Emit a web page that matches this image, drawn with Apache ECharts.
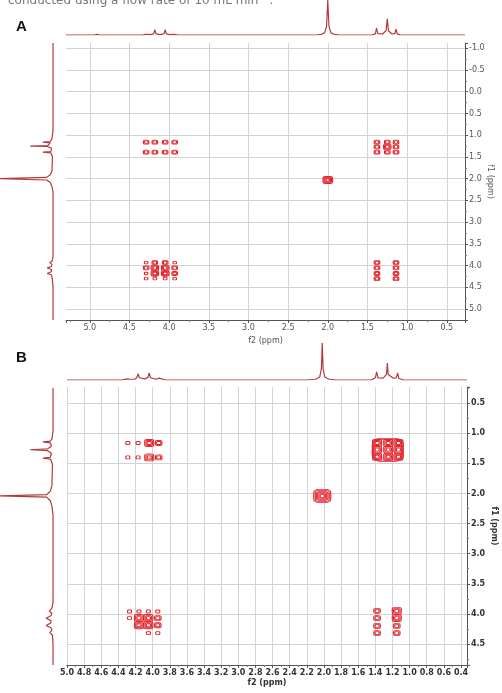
<!DOCTYPE html>
<html>
<head>
<meta charset="utf-8">
<style>
  html, body { margin: 0; padding: 0; background: #fff; }
  #main { width: 502px; height: 693px; }
</style>
<script src="https://cdn.jsdelivr.net/npm/echarts@6/dist/echarts.min.js"></script>
</head>
<body>
<div id="main"></div>
<script>
// 1D projections, [ppm, relative height]
var topSpecA = [
  [5.30, 0], [4.95, 0], [4.91, 0.02], [4.87, 0],
  [4.33, 0], [4.30, 0.02], [4.285, 0.07], [4.27, 0.02], [4.23, 0.01],
  [4.195, 0.03], [4.18, 0.15], [4.165, 0.03], [4.12, 0.01],
  [4.065, 0.03], [4.05, 0.15], [4.035, 0.03], [3.99, 0.01],
  [3.945, 0.02], [3.93, 0.06], [3.915, 0.01], [3.88, 0],
  [2.15, 0], [2.08, 0.02], [2.04, 0.06], [2.015, 0.25], [2.0, 1.0], [1.985, 0.25], [1.96, 0.06], [1.92, 0.02], [1.85, 0],
  [1.45, 0], [1.40, 0.03], [1.385, 0.2], [1.37, 0.04], [1.31, 0.03], [1.265, 0.12], [1.25, 0.46], [1.235, 0.12],
  [1.19, 0.03], [1.155, 0.04], [1.14, 0.17], [1.125, 0.03], [1.08, 0],
  [0.27, 0]
];
var topSpecB = [
  [5.0, 0], [4.36, 0], [4.30, 0.03], [4.285, 0.04], [4.27, 0.02], [4.21, 0.02],
  [4.185, 0.06], [4.17, 0.17], [4.155, 0.06], [4.09, 0.03],
  [4.055, 0.07], [4.04, 0.19], [4.025, 0.06], [3.96, 0.02],
  [3.94, 0.04], [3.925, 0.05], [3.91, 0.02], [3.85, 0],
  [2.2, 0], [2.1, 0.02], [2.05, 0.08], [2.03, 0.3], [2.02, 1.0], [2.01, 0.3], [1.99, 0.08], [1.94, 0.02], [1.85, 0],
  [1.45, 0], [1.40, 0.06], [1.385, 0.22], [1.37, 0.06], [1.31, 0.05], [1.27, 0.15], [1.26, 0.46], [1.25, 0.15],
  [1.19, 0.05], [1.155, 0.06], [1.14, 0.19], [1.125, 0.04], [1.07, 0],
  [0.33, 0]
];
// [relative height, ppm]
var leftSpecA = [
  [0, -1.12], [0, 0.9], [0.02, 1.08], [0.05, 1.145], [0.19, 1.16], [0.05, 1.175], [0.03, 1.21],
  [0.1, 1.24], [0.43, 1.25], [0.1, 1.26], [0.03, 1.30], [0.04, 1.375], [0.19, 1.39], [0.04, 1.405], [0.01, 1.5],
  [0.02, 1.82], [0.05, 1.91], [0.12, 1.97], [1.0, 2.0], [0.12, 2.03], [0.05, 2.09], [0.02, 2.18], [0, 2.3],
  [0, 3.8], [0.02, 3.9], [0.06, 3.93], [0.02, 3.97], [0.03, 4.02], [0.11, 4.05], [0.03, 4.09],
  [0.03, 4.14], [0.11, 4.18], [0.03, 4.21], [0.02, 4.26], [0.05, 4.30], [0.01, 4.34], [0, 4.5], [0, 5.25]
];
var leftSpecB = [
  [0, 0.23], [0, 0.95], [0.02, 1.08], [0.05, 1.115], [0.19, 1.13], [0.05, 1.145], [0.03, 1.2],
  [0.1, 1.245], [0.43, 1.26], [0.1, 1.275], [0.03, 1.32], [0.05, 1.385], [0.19, 1.40], [0.05, 1.415], [0.01, 1.5],
  [0.02, 1.85], [0.05, 1.95], [0.12, 2.01], [1.0, 2.03], [0.12, 2.05], [0.05, 2.11], [0.02, 2.2], [0, 2.35],
  [0, 3.8], [0.02, 3.9], [0.07, 3.95], [0.02, 3.99], [0.04, 4.03], [0.13, 4.07], [0.04, 4.11],
  [0.04, 4.15], [0.13, 4.19], [0.04, 4.23], [0.02, 4.27], [0.06, 4.31], [0.01, 4.35], [0, 4.5], [0, 4.85]
];

// 2D cross peaks, [f2, f1, contour levels]
var peaksA = [
  [4.29, 1.16, 2], [4.18, 1.16, 2], [4.05, 1.16, 2], [3.93, 1.16, 2],
  [4.29, 1.39, 2], [4.18, 1.39, 2], [4.05, 1.39, 2], [3.93, 1.39, 2],
  [1.38, 1.16, 2], [1.25, 1.16, 2], [1.14, 1.16, 2],
  [1.38, 1.27, 2], [1.25, 1.27, 3], [1.14, 1.27, 2],
  [1.38, 1.39, 2], [1.25, 1.39, 2], [1.14, 1.39, 2],
  [2.0, 2.03, 4],
  [4.29, 3.93, 1], [4.18, 3.93, 2], [4.05, 3.93, 2], [3.93, 3.93, 1],
  [4.29, 4.05, 2], [4.18, 4.05, 3], [4.05, 4.05, 3], [3.93, 4.05, 2],
  [4.29, 4.18, 1], [4.18, 4.18, 3], [4.05, 4.18, 3], [3.93, 4.18, 2],
  [4.29, 4.30, 1], [4.18, 4.30, 1], [4.05, 4.30, 1], [3.93, 4.30, 1],
  [1.38, 3.93, 2], [1.14, 3.93, 2], [1.38, 4.05, 2], [1.14, 4.05, 2],
  [1.38, 4.18, 2], [1.14, 4.18, 2], [1.38, 4.30, 2], [1.14, 4.30, 2]
];
var peaksB = [
  [4.29, 1.16, 1], [4.17, 1.16, 1], [4.04, 1.16, 3], [3.93, 1.16, 2],
  [4.29, 1.40, 1], [4.17, 1.40, 1], [4.04, 1.40, 3], [3.93, 1.40, 2],
  [1.38, 1.16, 3], [1.25, 1.16, 3], [1.13, 1.16, 3],
  [1.38, 1.27, 3], [1.25, 1.27, 3], [1.13, 1.27, 3],
  [1.38, 1.39, 3], [1.25, 1.39, 3], [1.13, 1.39, 3],
  [2.02, 2.04, 6],
  [4.27, 3.96, 1], [4.16, 3.96, 1], [4.05, 3.96, 1], [3.94, 3.96, 1],
  [4.27, 4.07, 1], [4.16, 4.07, 3], [4.05, 4.07, 3], [3.94, 4.07, 2],
  [4.16, 4.19, 3], [4.05, 4.19, 3], [3.94, 4.19, 2],
  [4.05, 4.32, 1], [3.94, 4.32, 1],
  [1.38, 3.95, 2], [1.15, 3.95, 3], [1.38, 4.07, 2], [1.15, 4.07, 3],
  [1.38, 4.20, 2], [1.15, 4.20, 2], [1.38, 4.32, 2], [1.15, 4.32, 2]
];
// outer contour around the 1.25 multiplet in B
var envelopeB = [[1.255, 1.275]];

var LINE = '#b23b3b';
var RED = '#e3262e';
var GRIDC = '#d3d3d3';
var ringsA = [[3.5, 2.5], [5.5, 4], [7.5, 5.5], [9.5, 7]];
var ringsB = [[4, 3], [6.5, 5], [9, 7], [11.5, 9], [14, 11], [17, 13]];
var ringsEnv = [[31, 23], [28, 20.5]];

function contourData(peaks, sizes) {
  var out = [];
  peaks.forEach(function (p) {
    for (var k = 0; k < p[2]; k++) {
      out.push({ value: [p[0], p[1]], symbolSize: sizes[k] });
    }
  });
  return out;
}

var fmt = function (v) { return v.toFixed(1); };

function mainX(grid, min, max, step, bold, showMaxLabel, showMaxLine, nameGap) {
  return {
    type: 'value', gridIndex: grid, inverse: true, min: min, max: max,
    minInterval: step, maxInterval: step, splitNumber: 20,
    name: 'f2 (ppm)', nameLocation: 'middle', nameGap: nameGap,
    nameTextStyle: { fontFamily: 'DejaVu Sans', fontSize: 8, color: bold ? '#333' : '#555', fontWeight: bold ? 'bold' : 'normal' },
    axisLine: { show: true, onZero: false, lineStyle: { color: '#555', width: 1 } },
    axisTick: { show: true, length: 3, lineStyle: { color: '#555' } },
    minorTick: { show: true, splitNumber: 2, length: 2, lineStyle: { color: '#777' } },
    axisLabel: {
      formatter: fmt, margin: 4, fontFamily: 'DejaVu Sans', fontSize: 8,
      color: bold ? '#333' : '#555', fontWeight: bold ? 'bold' : 'normal',
      showMinLabel: false, showMaxLabel: showMaxLabel
    },
    splitLine: { show: true, showMinLine: false, showMaxLine: showMaxLine, lineStyle: { color: GRIDC, width: 1 } }
  };
}

function mainY(grid, min, max, bold, nameGap) {
  return {
    type: 'value', gridIndex: grid, inverse: true, position: 'right', min: min, max: max,
    minInterval: 0.5, maxInterval: 0.5, splitNumber: 12,
    name: 'f1 (ppm)', nameLocation: 'middle', nameGap: nameGap, nameRotate: -90, nameMoveOverlap: false,
    nameTextStyle: { fontFamily: 'DejaVu Sans', fontSize: 8, color: bold ? '#333' : '#555', fontWeight: bold ? 'bold' : 'normal' },
    axisLine: { show: true, onZero: false, lineStyle: { color: '#555', width: 1 } },
    axisTick: { show: true, length: 3, lineStyle: { color: '#555' } },
    minorTick: { show: true, splitNumber: 2, length: 2, lineStyle: { color: '#777' } },
    axisLabel: {
      formatter: fmt, margin: 4, fontFamily: 'DejaVu Sans', fontSize: 8,
      color: bold ? '#333' : '#555', fontWeight: bold ? 'bold' : 'normal',
      showMinLabel: false, showMaxLabel: false
    },
    splitLine: { show: true, showMinLine: false, showMaxLine: false, lineStyle: { color: GRIDC, width: 1 } }
  };
}

function hidden(grid, min, max, inverse) {
  return { type: 'value', gridIndex: grid, min: min, max: max, inverse: !!inverse, show: false, splitLine: { show: false } };
}

function specLine(xi, yi, data) {
  return {
    type: 'line', xAxisIndex: xi, yAxisIndex: yi, data: data, showSymbol: false, symbol: 'none',
    lineStyle: { color: LINE, width: 1.2 }, silent: true, clip: true
  };
}

function contours(xi, yi, data) {
  return {
    type: 'scatter', xAxisIndex: xi, yAxisIndex: yi, data: data, symbol: 'roundRect', silent: true,
    itemStyle: { color: 'rgba(0,0,0,0)', borderColor: RED, borderWidth: 1, opacity: 1 }
  };
}

var myChart = echarts.init(document.getElementById('main'));

var option = {
  backgroundColor: '#fff',
  animation: false,
  grid: [
    { left: 66, top: 43, width: 399, height: 277, outerBoundsMode: 'none' },
    { left: 66, top: 0, width: 399, height: 35, outerBoundsMode: 'none' },
    { left: 0, top: 43, width: 53, height: 277, outerBoundsMode: 'none' },
    { left: 67, top: 387, width: 400, height: 278, outerBoundsMode: 'none' },
    { left: 67, top: 343, width: 400, height: 37, outerBoundsMode: 'none' },
    { left: 0, top: 388, width: 53, height: 277, outerBoundsMode: 'none' }
  ],
  xAxis: [
    mainX(0, 0.27, 5.30, 0.5, false, false, false, 17),
    hidden(1, 0.27, 5.30, true),
    hidden(2, 0, 1, true),
    mainX(3, 0.33, 5.0, 0.2, true, true, true, 14),
    hidden(4, 0.33, 5.0, true),
    hidden(5, 0, 1, true)
  ],
  yAxis: [
    mainY(0, -1.12, 5.25, false, 21),
    hidden(1, 0, 1),
    hidden(2, -1.12, 5.25, true),
    mainY(3, 0.23, 4.85, true, 23),
    hidden(4, 0, 1),
    hidden(5, 0.23, 4.85, true)
  ],
  graphic: [
    { type: 'text', style: { x: 0, y: 7, text: 'conducted using a flow rate of 10 mL min\u207B\u00B9.', fill: '#777',
      font: '12px "DejaVu Sans"', verticalAlign: 'bottom' }, position: [8, 0] },
    { type: 'text', left: 16, top: 19, style: { text: 'A', fill: '#111', font: 'bold 15px "Liberation Sans"' } },
    { type: 'text', left: 16, top: 350, style: { text: 'B', fill: '#111', font: 'bold 15px "Liberation Sans"' } }
  ],
  series: [
    specLine(1, 1, topSpecA),
    specLine(2, 2, leftSpecA),
    contours(0, 0, contourData(peaksA, ringsA)),
    specLine(4, 4, topSpecB),
    specLine(5, 5, leftSpecB),
    contours(3, 3, contourData(peaksB, ringsB)),
    contours(3, 3, contourData(envelopeB.map(function (e) { return [e[0], e[1], ringsEnv.length]; }), ringsEnv))
  ]
};
myChart.setOption(option);
</script>
</body>
</html>
